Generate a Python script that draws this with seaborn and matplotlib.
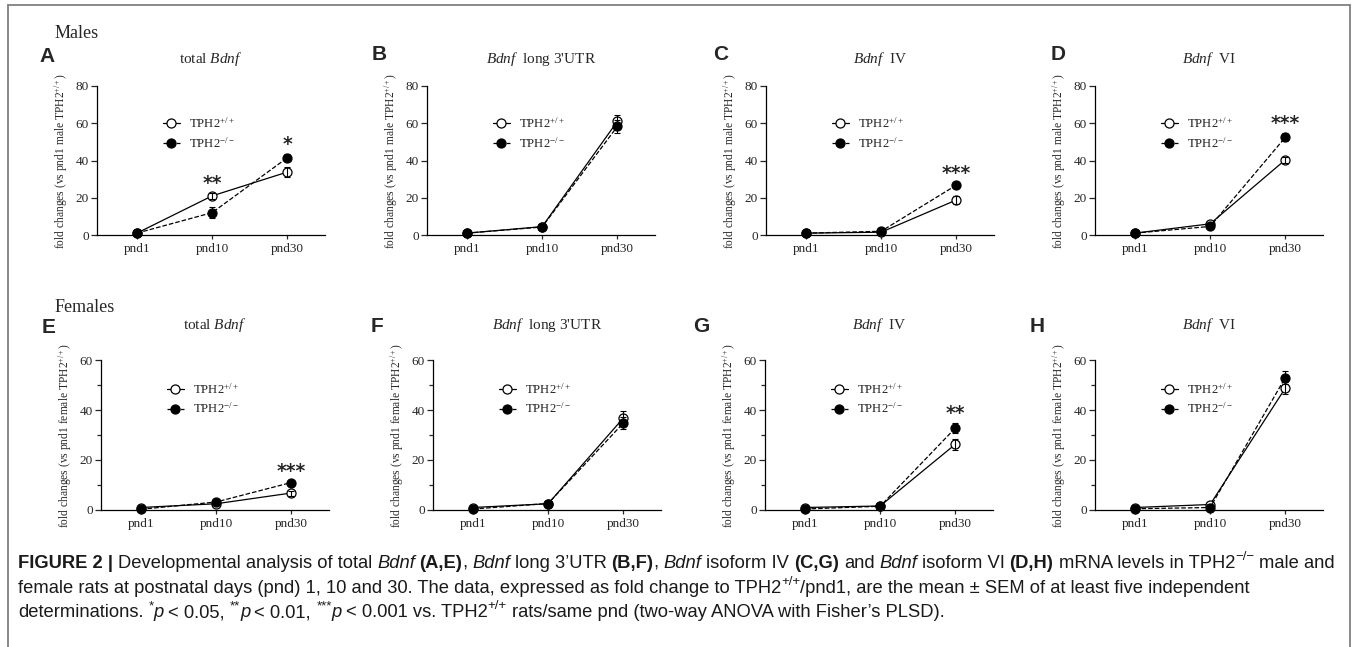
import numpy as np
import pandas as pd
import seaborn as sns
import matplotlib
matplotlib.use("Agg")
import matplotlib.pyplot as plt
from matplotlib.lines import Line2D

# values (mean and SEM, fold change vs pnd1)
PND = ["pnd1", "pnd10", "pnd30"]
GENES = ["total", "utr", "iv", "vi"]

male_wt = {"total": [1.0, 21.0, 33.8], "utr": [1.0, 4.5, 61.0], "iv": [1.0, 1.5, 18.8], "vi": [1.0, 6.0, 40.4]}
male_wt_sem = {"total": [0.3, 1.5, 2.5], "utr": [0.2, 0.5, 3.5], "iv": [0.2, 0.3, 2.0], "vi": [0.2, 0.6, 1.5]}
male_ko = {"total": [1.0, 12.0, 41.5], "utr": [1.0, 4.3, 58.3], "iv": [1.0, 2.0, 26.8], "vi": [1.0, 4.6, 52.5]}
male_ko_sem = {"total": [0.3, 3.0, 1.8], "utr": [0.2, 0.5, 3.5], "iv": [0.2, 0.3, 1.0], "vi": [0.2, 0.5, 2.0]}

female_wt = {"total": [1.0, 2.5, 6.8], "utr": [1.0, 2.5, 36.8], "iv": [1.0, 1.6, 26.3], "vi": [1.0, 2.2, 48.8]}
female_wt_sem = {"total": [0.2, 0.3, 1.0], "utr": [0.2, 0.3, 2.8], "iv": [0.2, 0.2, 2.2], "vi": [0.2, 0.4, 2.5]}
female_ko = {"total": [0.3, 3.2, 11.0], "utr": [0.4, 2.6, 34.8], "iv": [0.4, 1.5, 32.8], "vi": [0.5, 1.0, 53.0]}
female_ko_sem = {"total": [0.1, 0.4, 0.6], "utr": [0.1, 0.3, 2.5], "iv": [0.1, 0.2, 2.0], "vi": [0.1, 0.2, 2.5]}

stars_male = {"total": ["", "**", "*"], "utr": ["", "", ""], "iv": ["", "", "***"], "vi": ["", "", "***"]}
stars_female = {"total": ["", "", "***"], "utr": ["", "", ""], "iv": ["", "", "**"], "vi": ["", "", ""]}

titles = {"total": r"total $\mathit{Bdnf}$", "utr": r"$\mathit{Bdnf}$  long 3'UTR",
          "iv": r"$\mathit{Bdnf}$  IV", "vi": r"$\mathit{Bdnf}$  VI"}

rows = []
for sex, wt, wts, ko, kos in [("male", male_wt, male_wt_sem, male_ko, male_ko_sem),
                              ("female", female_wt, female_wt_sem, female_ko, female_ko_sem)]:
    for g in GENES:
        for i, p in enumerate(PND):
            rows.append((sex, g, "wt", p, wt[g][i], wts[g][i]))
            rows.append((sex, g, "ko", p, ko[g][i], kos[g][i]))
df = pd.DataFrame(rows, columns=["sex", "gene", "genotype", "pnd", "mean", "sem"])
df["x"] = pd.Categorical(df["pnd"], categories=PND).codes

sns.set_style("ticks")
plt.rcParams["font.family"] = ["Liberation Serif", "DejaVu Sans"]
plt.rcParams.update({"mathtext.fontset": "custom", "mathtext.rm": "Liberation Serif",
                     "mathtext.it": "Liberation Serif:italic", "mathtext.bf": "Liberation Serif:bold"})

W, H = 1356, 647
fig = plt.figure(figsize=(W / 100, H / 100), dpi=100)


def fx(px):
    return px / W


def fy(py):
    return 1 - py / H


top_lefts = [97, 427, 766, 1095]
bot_lefts = [101, 433, 765, 1095]

for sex, lefts, top, height, ymax, stars, tit_y in [
        ("male", top_lefts, 86, 149, 80, stars_male, 59),
        ("female", bot_lefts, 360, 150, 60, stars_female, 325)]:
    for k, g in enumerate(GENES):
        left = lefts[k]
        ax = fig.add_axes([fx(left), fy(top + height), fx(228), height / H])
        sub = df[(df.sex == sex) & (df.gene == g)]
        for geno, face, ls, lab in [("wt", "white", "-", r"TPH2$^{+/+}$"), ("ko", "black", "--", r"TPH2$^{-/-}$")]:
            d = sub[sub.genotype == geno]
            sns.lineplot(data=d, x="x", y="mean", ax=ax, color="black", lw=0.9, ls=ls,
                         marker="o", markersize=6.5, markerfacecolor=face, markeredgecolor="black",
                         markeredgewidth=0.9, label=lab, clip_on=False, zorder=3)
            ax.errorbar(d["x"], d["mean"], yerr=d["sem"], fmt="none", ecolor="black",
                        elinewidth=0.8, capsize=2.3, capthick=0.8, clip_on=False, zorder=4)
        # significance stars
        tops = sub.assign(t=sub["mean"] + sub["sem"]).groupby("x")["t"].max()
        for xi, s in enumerate(stars[g]):
            if s:
                ax.annotate(s, (xi, tops[xi]), xytext=(0, 7), textcoords="offset points",
                            ha="center", va="center", fontsize=13.5, fontweight="bold",
                            family="DejaVu Sans")
        ax.set_xlim(-0.53, 2.5)
        ax.set_ylim(0, ymax)
        ax.set_xticks(range(len(PND)))
        ax.set_xticklabels(PND)
        ax.set_yticks(np.arange(0, ymax + 1, 20))
        if sex == "female":
            ax.set_yticks(np.arange(10, ymax, 20), minor=True)
        ax.tick_params(axis="y", which="major", direction="out", length=4, width=0.9, labelsize=9.5, pad=2)
        ax.tick_params(axis="y", which="minor", direction="out", length=3, width=0.9)
        ax.tick_params(axis="x", direction="out", length=3, width=0.9, labelsize=9.5, pad=3)
        ax.set_xlabel("")
        ax.set_ylabel("fold changes (vs pnd1 " + sex + " TPH2$^{+/+}$)", fontsize=8.3, labelpad=4)
        sns.despine(ax=ax)
        for sp in ["left", "bottom"]:
            ax.spines[sp].set_linewidth(0.9)
            ax.spines[sp].set_color("black")
        ax.spines["left"].set_bounds(0, ymax)
        ly = 0.80 if sex == "male" else 0.855
        ax.legend(loc="upper left", bbox_to_anchor=(0.29, ly), frameon=False, fontsize=9.2,
                  handlelength=1.3, handletextpad=0.7, labelspacing=0.4, borderpad=0,
                  borderaxespad=0, numpoints=1)
        fig.text(fx(left + 114), fy(tit_y), titles[g], ha="center", va="center", fontsize=11)

for x, y, s in [(47, 57, "A"), (379, 55, "B"), (721, 55, "C"), (1058, 55, "D"),
                (49, 327, "E"), (377, 326, "F"), (701, 326, "G"), (1037, 326, "H")]:
    fig.text(fx(x), fy(y), s, ha="center", va="center", fontsize=15, fontweight="bold",
             family="Liberation Sans")
fig.text(fx(55), fy(33), "Males", ha="left", va="center", fontsize=13)
fig.text(fx(55), fy(307), "Females", ha="left", va="center", fontsize=13)

# outer frame
for xs, ys in [([8, 1350], [5, 5]), ([8, 8], [5, 647]), ([1350, 1350], [5, 647])]:
    fig.add_artist(Line2D([fx(v) for v in xs], [fy(v) for v in ys], transform=fig.transFigure,
                          color="#808080", lw=1.3))

# caption, drawn segment by segment
renderer = fig.canvas.get_renderer()
CAP = 13.2


def seg_width(s, kw):
    t = fig.text(0, 0, s, **kw)
    w = t.get_window_extent(renderer=renderer).width
    t.remove()
    return w


def rich_line(x0, y0, parts):
    x = x0
    for s, kind in parts:
        kw = dict(family="Liberation Sans", fontsize=CAP, ha="left", va="baseline", color="#1a1a1a")
        dy = 0
        if kind == "b":
            kw["fontweight"] = "bold"
        elif kind == "i":
            kw["fontstyle"] = "italic"
        elif kind == "sup":
            kw["fontsize"] = CAP * 0.72
            dy = CAP * 0.42 * 100 / 72
        space = seg_width("x x", kw) - seg_width("xx", kw)
        core = s.strip(" ")
        if not core:
            x += len(s) * space
            continue
        x += (len(s) - len(s.lstrip(" "))) * space
        t = fig.text(fx(x), fy(y0 - dy), core, **kw)
        x += t.get_window_extent(renderer=renderer).width
        if kind == "i":
            x -= 1
        x += (len(s) - len(s.rstrip(" "))) * space


cap1 = [("FIGURE 2 |", "b"), (" Developmental analysis of total ", "n"), ("Bdnf", "i"), (" ", "n"),
        ("(A,E)", "b"), (", ", "n"), ("Bdnf", "i"), (" long 3\u2019UTR ", "n"), ("(B,F)", "b"),
        (", ", "n"), ("Bdnf", "i"), (" isoform IV ", "n"), ("(C,G)", "b"), (" and ", "n"),
        ("Bdnf", "i"), (" isoform VI ", "n"), ("(D,H)", "b"), (" mRNA levels in TPH2", "n"),
        ("\u2212/\u2212", "sup"), (" male and", "n")]
cap2 = [("female rats at postnatal days (pnd) 1, 10 and 30. The data, expressed as fold change to TPH2", "n"),
        ("+/+", "sup"), ("/pnd1, are the mean \u00b1 SEM of at least five independent", "n")]
cap3 = [("determinations. ", "n"), ("*", "sup"), ("p", "i"), (" < 0.05, ", "n"), ("**", "sup"), ("p", "i"),
        (" < 0.01, ", "n"), ("***", "sup"), ("p", "i"), (" < 0.001 vs. TPH2", "n"), ("+/+", "sup"),
        (" rats/same pnd (two-way ANOVA with Fisher\u2019s PLSD).", "n")]
for yy, parts in [(568, cap1), (593, cap2), (617, cap3)]:
    rich_line(18, yy, parts)

fig.savefig("out.png", dpi=100)
